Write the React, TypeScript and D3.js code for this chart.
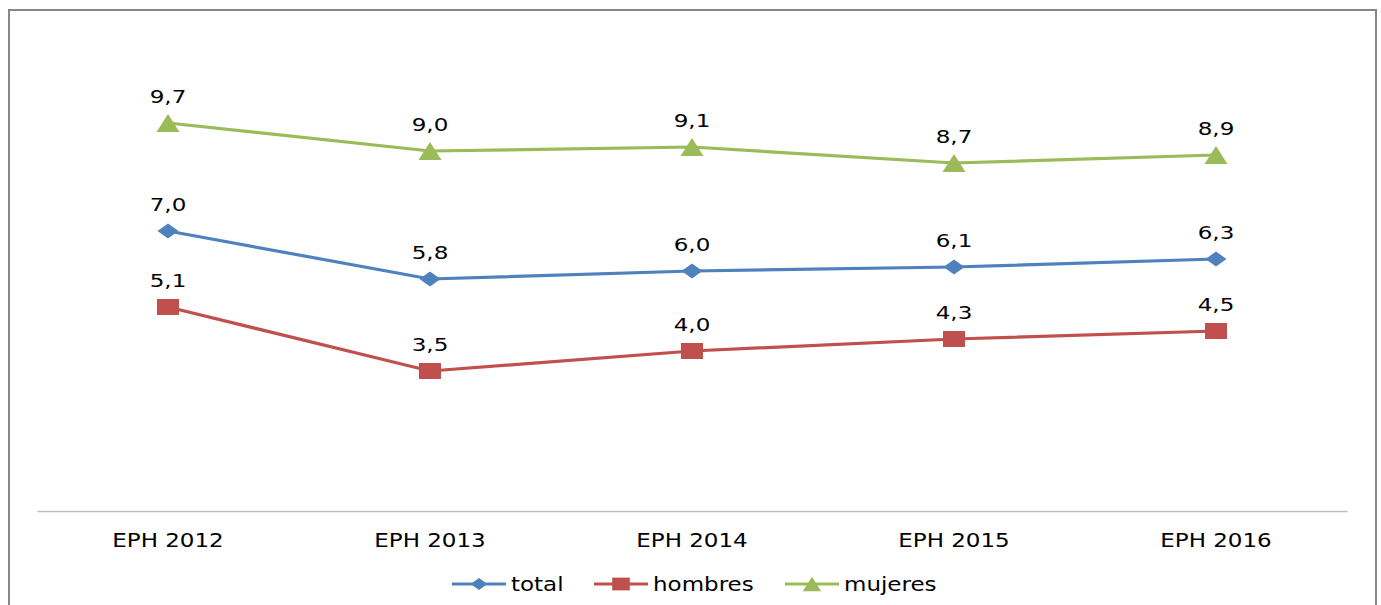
import * as d3 from 'd3';
import React, { useEffect, useRef } from 'react';

const WIDTH = 1381;
const HEIGHT = 605;

const categories = ['EPH 2012', 'EPH 2013', 'EPH 2014', 'EPH 2015', 'EPH 2016'];
const total = [7.0, 5.8, 6.0, 6.1, 6.3];
const hombres = [5.1, 3.5, 4.0, 4.3, 4.5];
const mujeres = [9.7, 9.0, 9.1, 8.7, 8.9];

const seriesNames = ['total', 'hombres', 'mujeres'];
const seriesColors = ['#4F81BD', '#C0504D', '#9BBB59'];
const seriesShapes = ['diamond', 'square', 'triangle'];

const FONT = '"DejaVu Sans", Verdana, sans-serif';

// marker paths, slightly wider than tall like the original
const markerPath = (shape: string, k = 1) => {
  if (shape === 'diamond') {
    const w = 10.5 * k, h = 7.5 * k;
    return `M${-w},0L0,${-h}L${w},0L0,${h}Z`;
  }
  if (shape === 'square') {
    const w = 11 * k, h = 8 * k;
    return `M${-w},${-h}H${w}V${h}H${-w}Z`;
  }
  const w = 11.5 * k, h = 9 * k;
  return `M0,${-h}L${w},${h}L${-w},${h}Z`;
};

const fmt = (v: number) => v.toFixed(1).replace('.', ',');

export default function App() {
  const ref = useRef<SVGSVGElement>(null);

  useEffect(() => {
    document.body.style.margin = '0';
    const svg = d3.select(ref.current);
    svg.selectAll('*').remove();

    svg.append('rect')
      .attr('width', WIDTH)
      .attr('height', HEIGHT)
      .attr('fill', '#fff');

    // outer frame
    svg.append('rect')
      .attr('x', 9)
      .attr('y', 10)
      .attr('width', 1367)
      .attr('height', 620)
      .attr('fill', 'none')
      .attr('stroke', '#878787')
      .attr('stroke-width', 2);

    const x = d3.scaleBand().domain(categories).range([37, 1347]);
    const y = d3.scaleLinear().domain([0, 12]).range([511, 31]);
    const cx = (c: string) => (x(c) || 0) + x.bandwidth() / 2;

    const axis = svg.append('g')
      .attr('transform', `translate(0,${y(0)})`)
      .call(d3.axisBottom(x).tickSize(0).tickPadding(22));
    axis.select('.domain').attr('stroke', '#BFBFBF').attr('stroke-width', 1.5);
    axis.selectAll('text')
      .attr('fill', '#000')
      .style('font-family', FONT)
      .style('font-size', '20px')
      .attr('transform', 'scale(1.15,1)');

    const data = [total, hombres, mujeres];
    const line = d3.line<number>()
      .x((_, i) => cx(categories[i]))
      .y(d => y(d));

    data.forEach((values, s) => {
      const g = svg.append('g');
      g.append('path')
        .datum(values)
        .attr('d', line)
        .attr('fill', 'none')
        .attr('stroke', seriesColors[s])
        .attr('stroke-width', 3.2);
      g.selectAll('path.marker')
        .data(values)
        .enter()
        .append('path')
        .attr('class', 'marker')
        .attr('transform', (d, i) => `translate(${cx(categories[i])},${y(d)})`)
        .attr('d', markerPath(seriesShapes[s]))
        .attr('fill', seriesColors[s]);
      g.selectAll('text')
        .data(values)
        .enter()
        .append('text')
        .attr('transform', (d, i) => `translate(${cx(categories[i])},${y(d) - 20}) scale(1.28,1)`)
        .attr('text-anchor', 'middle')
        .style('font-family', FONT)
        .style('font-size', '18px')
        .attr('fill', '#000')
        .text(d => fmt(d));
    });

    // legend
    const legendX = [452, 594, 785];
    const legendY = 584;
    seriesNames.forEach((name, s) => {
      const g = svg.append('g').attr('transform', `translate(${legendX[s]},${legendY})`);
      g.append('line')
        .attr('x1', 0)
        .attr('x2', 54)
        .attr('stroke', seriesColors[s])
        .attr('stroke-width', 3.2);
      g.append('path')
        .attr('transform', 'translate(27,0)')
        .attr('d', markerPath(seriesShapes[s], 0.8))
        .attr('fill', seriesColors[s]);
      g.append('text')
        .attr('transform', 'translate(59,7) scale(1.15,1)')
        .style('font-family', FONT)
        .style('font-size', '20px')
        .attr('fill', '#000')
        .text(name);
    });
  }, []);

  return <svg ref={ref} width={WIDTH} height={HEIGHT} style={{ display: 'block' }} />;
}
